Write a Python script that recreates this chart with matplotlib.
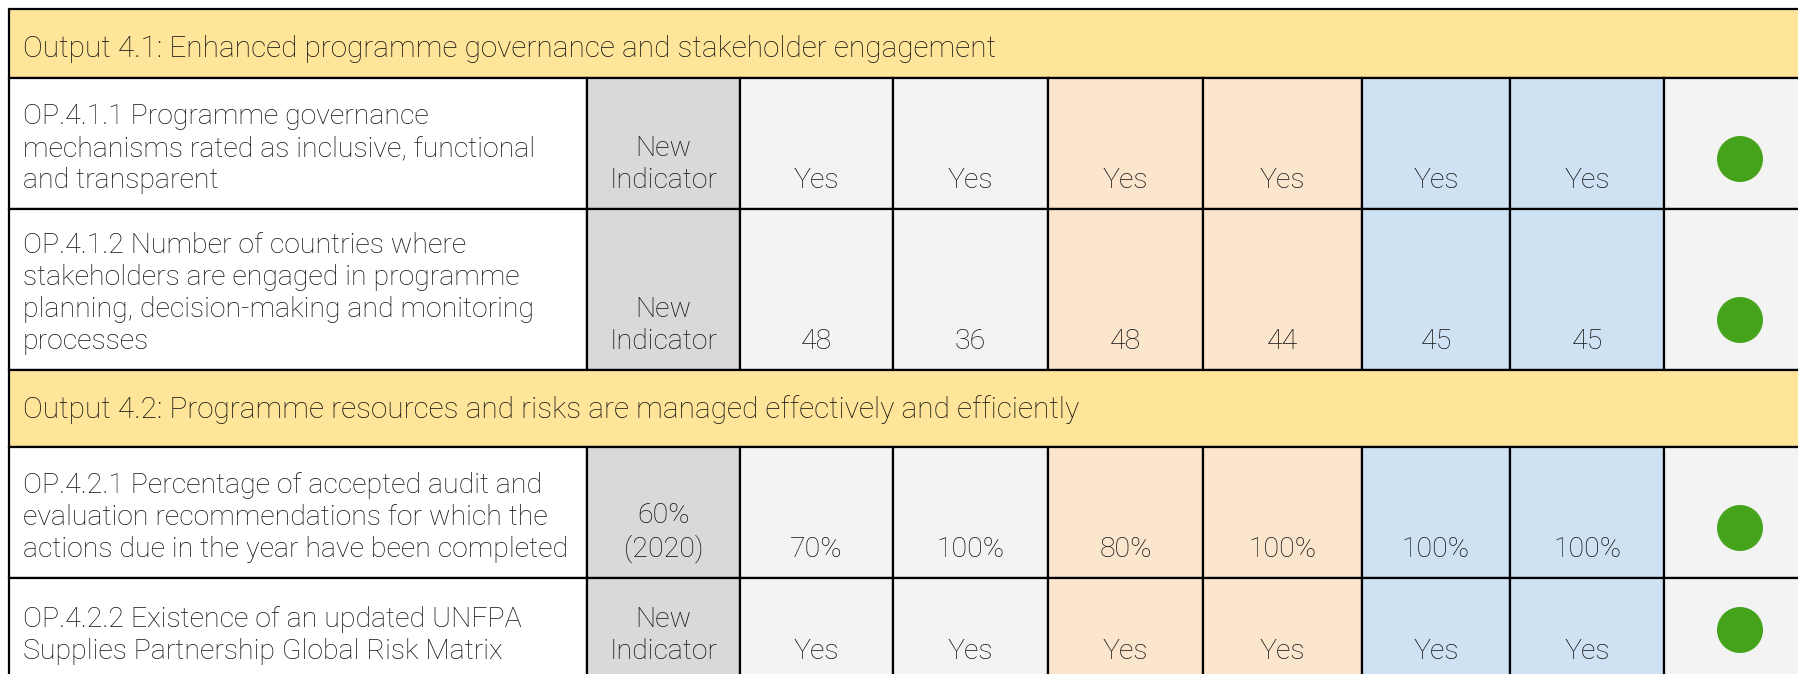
import matplotlib.pyplot as plt
from matplotlib.patches import Rectangle, Circle

# ----------------------------- data ------------------------------------------
headers = [
    "Output 4.1: Enhanced programme governance and stakeholder engagement",
    "Output 4.2: Programme resources and risks are managed effectively and efficiently",
]

indicators = [
    "OP.4.1.1 Programme governance\nmechanisms rated as inclusive, functional\nand transparent",
    "OP.4.1.2 Number of countries where\nstakeholders are engaged in programme\nplanning, decision-making and monitoring\nprocesses",
    "OP.4.2.1 Percentage of accepted audit and\nevaluation recommendations for which the\nactions due in the year have been completed",
    "OP.4.2.2 Existence of an updated UNFPA\nSupplies Partnership Global Risk Matrix",
]
baselines = ["New\nIndicator", "New\nIndicator", "60%\n(2020)", "New\nIndicator"]
values = [
    ["Yes", "Yes", "Yes", "Yes", "Yes", "Yes"],
    ["48", "36", "48", "44", "45", "45"],
    ["70%", "100%", "80%", "100%", "100%", "100%"],
    ["Yes", "Yes", "Yes", "Yes", "Yes", "Yes"],
]
status = ["green", "green", "green", "green"]

# ----------------------------- layout (pixels) -------------------------------
W, H = 1798, 674
col_edges = [9, 587, 740, 893, 1048, 1203, 1362, 1510, 1664, 1830]
col_colors = ["white", "#D9D9D9", "#F3F3F3", "#F3F3F3",
              "#FCE5CD", "#FCE5CD", "#CFE2F3", "#CFE2F3", "#F3F3F3"]
header_color = "#FFE599"
status_colors = {"green": "#44A31B"}
text_color = "#111111"

# row layout: (kind, index, top, bottom)
rows = [
    ("header", 0, 9, 78),
    ("data", 0, 78, 209),
    ("data", 1, 209, 370),
    ("header", 1, 370, 447),
    ("data", 2, 447, 578),
    ("data", 3, 578, 680),
]

font = dict(family=["Roboto", "DejaVu Sans"], fontweight="light",
            fontsize=20.5, color=text_color, linespacing=1.24)
header_font = dict(font, fontsize=21.4)
lw = 1.6

fig = plt.figure(figsize=(W / 100, H / 100), dpi=100)
ax = fig.add_axes([0, 0, 1, 1])
ax.set_xlim(0, W)
ax.set_ylim(H, 0)
ax.axis("off")
fig.patch.set_facecolor("white")

for kind, idx, top, bottom in rows:
    if kind == "header":
        ax.add_patch(Rectangle((col_edges[0], top), col_edges[-1] - col_edges[0],
                               bottom - top, facecolor=header_color,
                               edgecolor="black", linewidth=lw))
        ax.text(col_edges[0] + 14, top + 40, headers[idx], ha="left",
                va="center", **header_font)
        continue

    cells = [indicators[idx], baselines[idx]] + values[idx] + [None]
    for c, txt in enumerate(cells):
        x0, x1 = col_edges[c], col_edges[c + 1]
        ax.add_patch(Rectangle((x0, top), x1 - x0, bottom - top,
                               facecolor=col_colors[c], edgecolor="black",
                               linewidth=lw))
        if txt is None:
            ax.add_patch(Circle((x0 + 76, bottom - 50), 23,
                                facecolor=status_colors[status[idx]],
                                edgecolor="none"))
        elif c == 0:
            ax.text(x0 + 14, bottom - 15, txt, ha="left", va="bottom",
                    multialignment="left", **font)
        else:
            ax.text((x0 + x1) / 2, bottom - 15, txt, ha="center",
                    va="bottom", multialignment="center", **font)

fig.savefig("out.png", dpi=100)
